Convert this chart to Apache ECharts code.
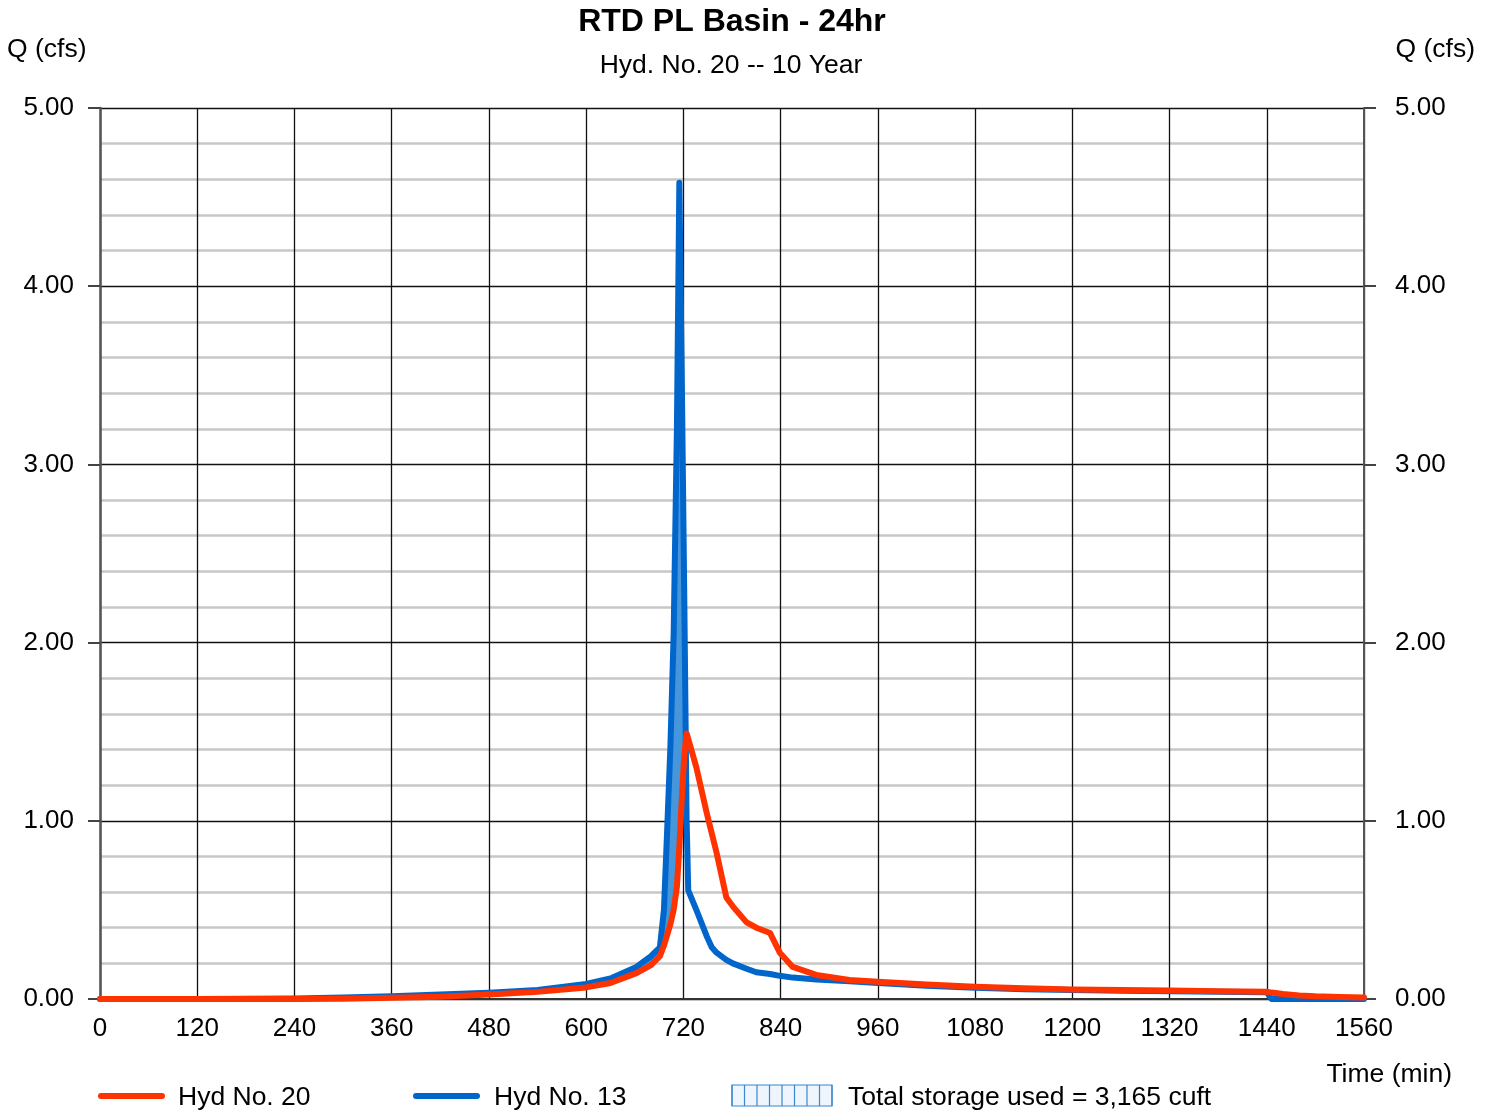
<!DOCTYPE html>
<html>
<head>
<meta charset="utf-8">
<script src="https://cdn.jsdelivr.net/npm/echarts@6/dist/echarts.min.js"></script>
<style>
html,body{margin:0;padding:0;background:#fff;}
#chart{width:1491px;height:1110px;}
</style>
</head>
<body>
<div id="chart"></div>
<script>
// ---- data ----
var times = [0, 120, 240, 300, 360, 420, 480, 540, 600, 630, 662, 680, 691, 696, 700, 704, 708, 712, 715, 718, 721, 724, 726, 736, 749, 755, 761, 773, 781, 798, 810, 827, 839, 855, 884, 925, 960, 1020, 1080, 1140, 1200, 1260, 1320, 1380, 1440, 1446, 1460, 1480, 1500, 1530, 1560];
var hyd13 = [0, 0, 0.003, 0.008, 0.015, 0.025, 0.035, 0.05, 0.085, 0.115, 0.18, 0.24, 0.29, 0.5, 0.95, 1.42, 2.05, 3.2, 4.58, 3.5, 2.3, 1.0, 0.61, 0.5, 0.35, 0.29, 0.26, 0.22, 0.2, 0.17, 0.15, 0.14, 0.13, 0.12, 0.11, 0.1, 0.09, 0.075, 0.063, 0.055, 0.05, 0.046, 0.044, 0.041, 0.038, 0, 0, 0, 0, 0, 0];
var hyd20 = [0, 0, 0, 0.002, 0.007, 0.012, 0.025, 0.04, 0.065, 0.09, 0.145, 0.19, 0.24, 0.3, 0.36, 0.42, 0.5, 0.63, 0.85, 1.12, 1.36, 1.49, 1.46, 1.30, 1.04, 0.93, 0.82, 0.57, 0.52, 0.43, 0.40, 0.37, 0.26, 0.18, 0.135, 0.107, 0.097, 0.082, 0.069, 0.06, 0.054, 0.05, 0.047, 0.044, 0.041, 0.036, 0.028, 0.02, 0.015, 0.011, 0.009];
var yTicks = [0, 1, 2, 3, 4, 5];
var xTicks = [0, 120, 240, 360, 480, 600, 720, 840, 960, 1080, 1200, 1320, 1440, 1560];
var titleText = 'RTD PL Basin - 24hr';
var subtitleText = 'Hyd. No. 20 -- 10 Year';
var legendNames = ['Hyd No. 20', 'Hyd No. 13', 'Total storage used = 3,165 cuft'];

var RED = '#ff3300', BLUE = '#0066cc', FILL = '#4696dc';
var FONT = '"Liberation Sans", Arial, sans-serif';
var TF = '26.5px ' + FONT;

function pairs(v){ return times.map(function(t,i){ return [t, v[i]]; }); }

var chart = echarts.init(document.getElementById('chart'), null, {renderer:'canvas'});

var hatch = [];
for (var k = 0; k <= 8; k++) {
  hatch.push({type:'line', shape:{x1:732 + k*12.5, y1:1085, x2:732 + k*12.5, y2:1106}, style:{stroke:'#3a86d0', lineWidth:1.2}});
}

var yLabelFmt = function(v){ return yTicks.indexOf(v) >= 0 ? v.toFixed(2) : ''; };

// storage area: between outflow (Hyd 20) and inflow (Hyd 13) where inflow is higher
function renderStorage(params, api) {
  var top = [], bottom = [];
  for (var i = 0; i < times.length; i++) {
    top.push(api.coord([times[i], Math.max(hyd13[i], hyd20[i])]));
    bottom.push(api.coord([times[i], hyd20[i]]));
  }
  var pts = top.concat(bottom.reverse());
  return {type:'polygon', shape:{points:pts}, style:{fill:FILL, stroke:null}, silent:true};
}

chart.setOption({
  animation:false,
  backgroundColor:'#fff',
  grid:{left:100, right:127, top:108, bottom:111, containLabel:false},
  xAxis:{
    type:'value', min:0, max:1560, interval:120,
    axisLine:{show:true, lineStyle:{color:'#333', width:2}},
    axisTick:{show:false},
    axisLabel:{color:'#000', fontSize:26, fontFamily:FONT, margin:17,
      formatter:function(v){ return xTicks.indexOf(v) >= 0 ? String(v) : ''; }},
    splitLine:{show:true, lineStyle:{color:'#111', width:1.3}}
  },
  yAxis:[{
    type:'value', min:0, max:5, interval:1, position:'left',
    axisLine:{show:true, onZero:false, lineStyle:{color:'#555', width:2.5}},
    axisTick:{show:true, length:12, lineStyle:{color:'#444', width:2}},
    axisLabel:{color:'#000', fontSize:26, fontFamily:FONT, margin:26, padding:[4,0,0,0], formatter:yLabelFmt},
    splitLine:{show:true, lineStyle:{color:'#111', width:1.3}},
    minorTick:{show:false, splitNumber:5},
    minorSplitLine:{show:true, lineStyle:{color:'#c8c8c8', width:2.5}}
  },{
    type:'value', min:0, max:5, interval:1, position:'right',
    axisLine:{show:true, onZero:false, lineStyle:{color:'#555', width:2}},
    axisTick:{show:true, length:12, lineStyle:{color:'#444', width:2}},
    axisLabel:{color:'#000', fontSize:26, fontFamily:FONT, margin:31, padding:[4,0,0,0], formatter:yLabelFmt},
    splitLine:{show:false}
  }],
  series:[
    {name:legendNames[2], type:'custom', data:[[0,0]], renderItem:renderStorage, z:1, silent:true, clip:true},
    {name:legendNames[1], type:'line', data:pairs(hyd13), showSymbol:false,
     lineStyle:{color:BLUE, width:6, cap:'round', join:'round'}, z:3},
    {name:legendNames[0], type:'line', data:pairs(hyd20), showSymbol:false,
     lineStyle:{color:RED, width:6, cap:'round', join:'round'}, z:4}
  ],
  graphic:[
    {type:'text', x:732, y:22, style:{text:titleText, font:'bold 32px ' + FONT, fill:'#000', textAlign:'center', textVerticalAlign:'middle'}},
    {type:'text', x:731, y:66, style:{text:subtitleText, font:TF, fill:'#000', textAlign:'center', textVerticalAlign:'middle'}},
    {type:'text', x:7, y:50, style:{text:'Q (cfs)', font:TF, fill:'#000', textAlign:'left', textVerticalAlign:'middle'}},
    {type:'text', x:1475, y:50, style:{text:'Q (cfs)', font:TF, fill:'#000', textAlign:'right', textVerticalAlign:'middle'}},
    {type:'text', x:1452, y:1075, style:{text:'Time (min)', font:TF, fill:'#000', textAlign:'right', textVerticalAlign:'middle'}},
    {type:'line', shape:{x1:101, y1:1096, x2:162, y2:1096}, style:{stroke:RED, lineWidth:6, lineCap:'round'}},
    {type:'text', x:178, y:1098, style:{text:legendNames[0], font:TF, fill:'#000', textAlign:'left', textVerticalAlign:'middle'}},
    {type:'line', shape:{x1:416, y1:1096, x2:477, y2:1096}, style:{stroke:BLUE, lineWidth:6, lineCap:'round'}},
    {type:'text', x:494, y:1098, style:{text:legendNames[1], font:TF, fill:'#000', textAlign:'left', textVerticalAlign:'middle'}},
    {type:'rect', shape:{x:732, y:1085, width:100, height:21}, style:{fill:'#eef5fc', stroke:'#3a86d0', lineWidth:1.2}},
    {type:'group', children:hatch},
    {type:'text', x:848, y:1098, style:{text:legendNames[2], font:TF, fill:'#000', textAlign:'left', textVerticalAlign:'middle'}}
  ]
});
</script>
</body>
</html>
